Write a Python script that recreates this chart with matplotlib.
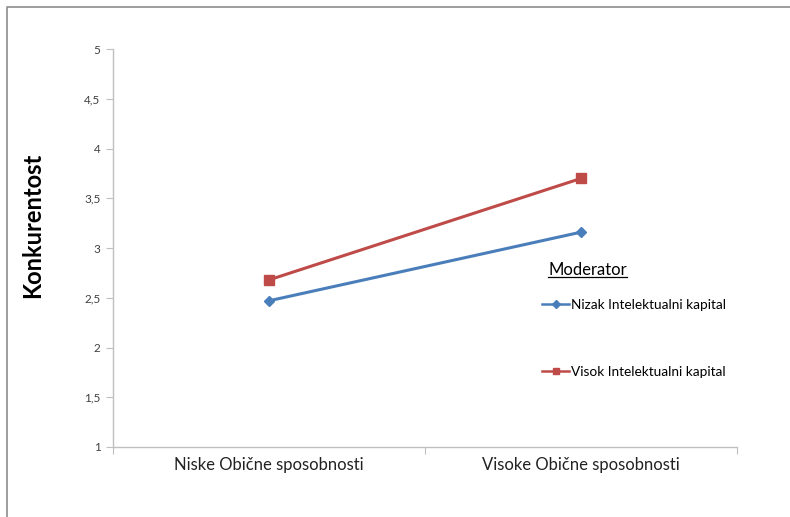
import numpy as np
import matplotlib.pyplot as plt
from matplotlib.lines import Line2D

plt.rcParams['font.family'] = ['Lato', 'DejaVu Sans']

# two levels of the predictor, two moderator groups
categories = ['Niske Obične sposobnosti', 'Visoke Obične sposobnosti']
nizak = [2.47, 3.16]
visok = [2.68, 3.70]
series_names = ['Nizak Intelektualni kapital', 'Visok Intelektualni kapital']
yticks = [1, 1.5, 2, 2.5, 3, 3.5, 4, 4.5, 5]
ytick_labels = ['1', '1,5', '2', '2,5', '3', '3,5', '4', '4,5', '5']

blue = '#4a7ebb'
red = '#be4b48'
grid_col = '#bfbfbf'

fig = plt.figure(figsize=(7.9, 5.17), dpi=100)
ax = fig.add_axes([0.143, 0.1354, 0.790, 0.7696])

# categories sit in the middle of their slots, ticks on the slot borders
xpos = np.arange(len(categories)) + 0.5
ax.plot(xpos, nizak, color=blue, lw=2.2, marker='D', ms=5.5, label=series_names[0])
ax.plot(xpos, visok, color=red, lw=2.2, marker='s', ms=7, label=series_names[1])

ax.set_xlim(0, len(categories))
ax.set_ylim(1, 5)
ax.set_yticks(yticks)
ax.set_yticklabels(ytick_labels)
ax.set_xticks(np.arange(len(categories) + 1))
ax.set_xticklabels([])
ax.set_xticks(xpos, minor=True)
ax.set_xticklabels(categories, minor=True, fontsize=12, color='#222222')
ax.tick_params(axis='x', which='minor', length=0, pad=7)
ax.tick_params(axis='x', which='major', length=5, color=grid_col, direction='out')
ax.tick_params(axis='y', length=5, color=grid_col, labelsize=8.5, labelcolor='#404040', pad=4)

for s in ['top', 'right']:
    ax.spines[s].set_visible(False)
for s in ['left', 'bottom']:
    ax.spines[s].set_color(grid_col)
    ax.spines[s].set_linewidth(1.0)

ax.set_ylabel('Konkurentost', fontsize=17, fontweight='bold')
ax.yaxis.set_label_coords(-0.111, 0.558)

# legend with an underlined title
leg = ax.legend(loc='upper left', bbox_to_anchor=(0.679, 0.385), frameon=False,
                fontsize=9.8, handlelength=2.0, handletextpad=0.1,
                labelspacing=4.0, borderaxespad=0, markerscale=0.7)
for h in leg.legend_handles:
    h.set_linewidth(1.8)
t = fig.text(548 / 790, 1 - 270 / 517, 'Moderator', fontsize=12, va='center', ha='left')
fig.canvas.draw()
bb = t.get_window_extent().transformed(fig.transFigure.inverted())
fig.add_artist(Line2D([bb.x0, bb.x1], [bb.y0 + 0.002, bb.y0 + 0.002],
                      transform=fig.transFigure, color='black', lw=0.9))

# outer frame (left and top edges)
fig.add_artist(Line2D([7 / 790, 7 / 790, 1.0], [0.0, 1 - 7 / 517, 1 - 7 / 517],
                      transform=fig.transFigure, color='#8c8c8c', lw=1.2))

fig.savefig('out.png', dpi=100)
